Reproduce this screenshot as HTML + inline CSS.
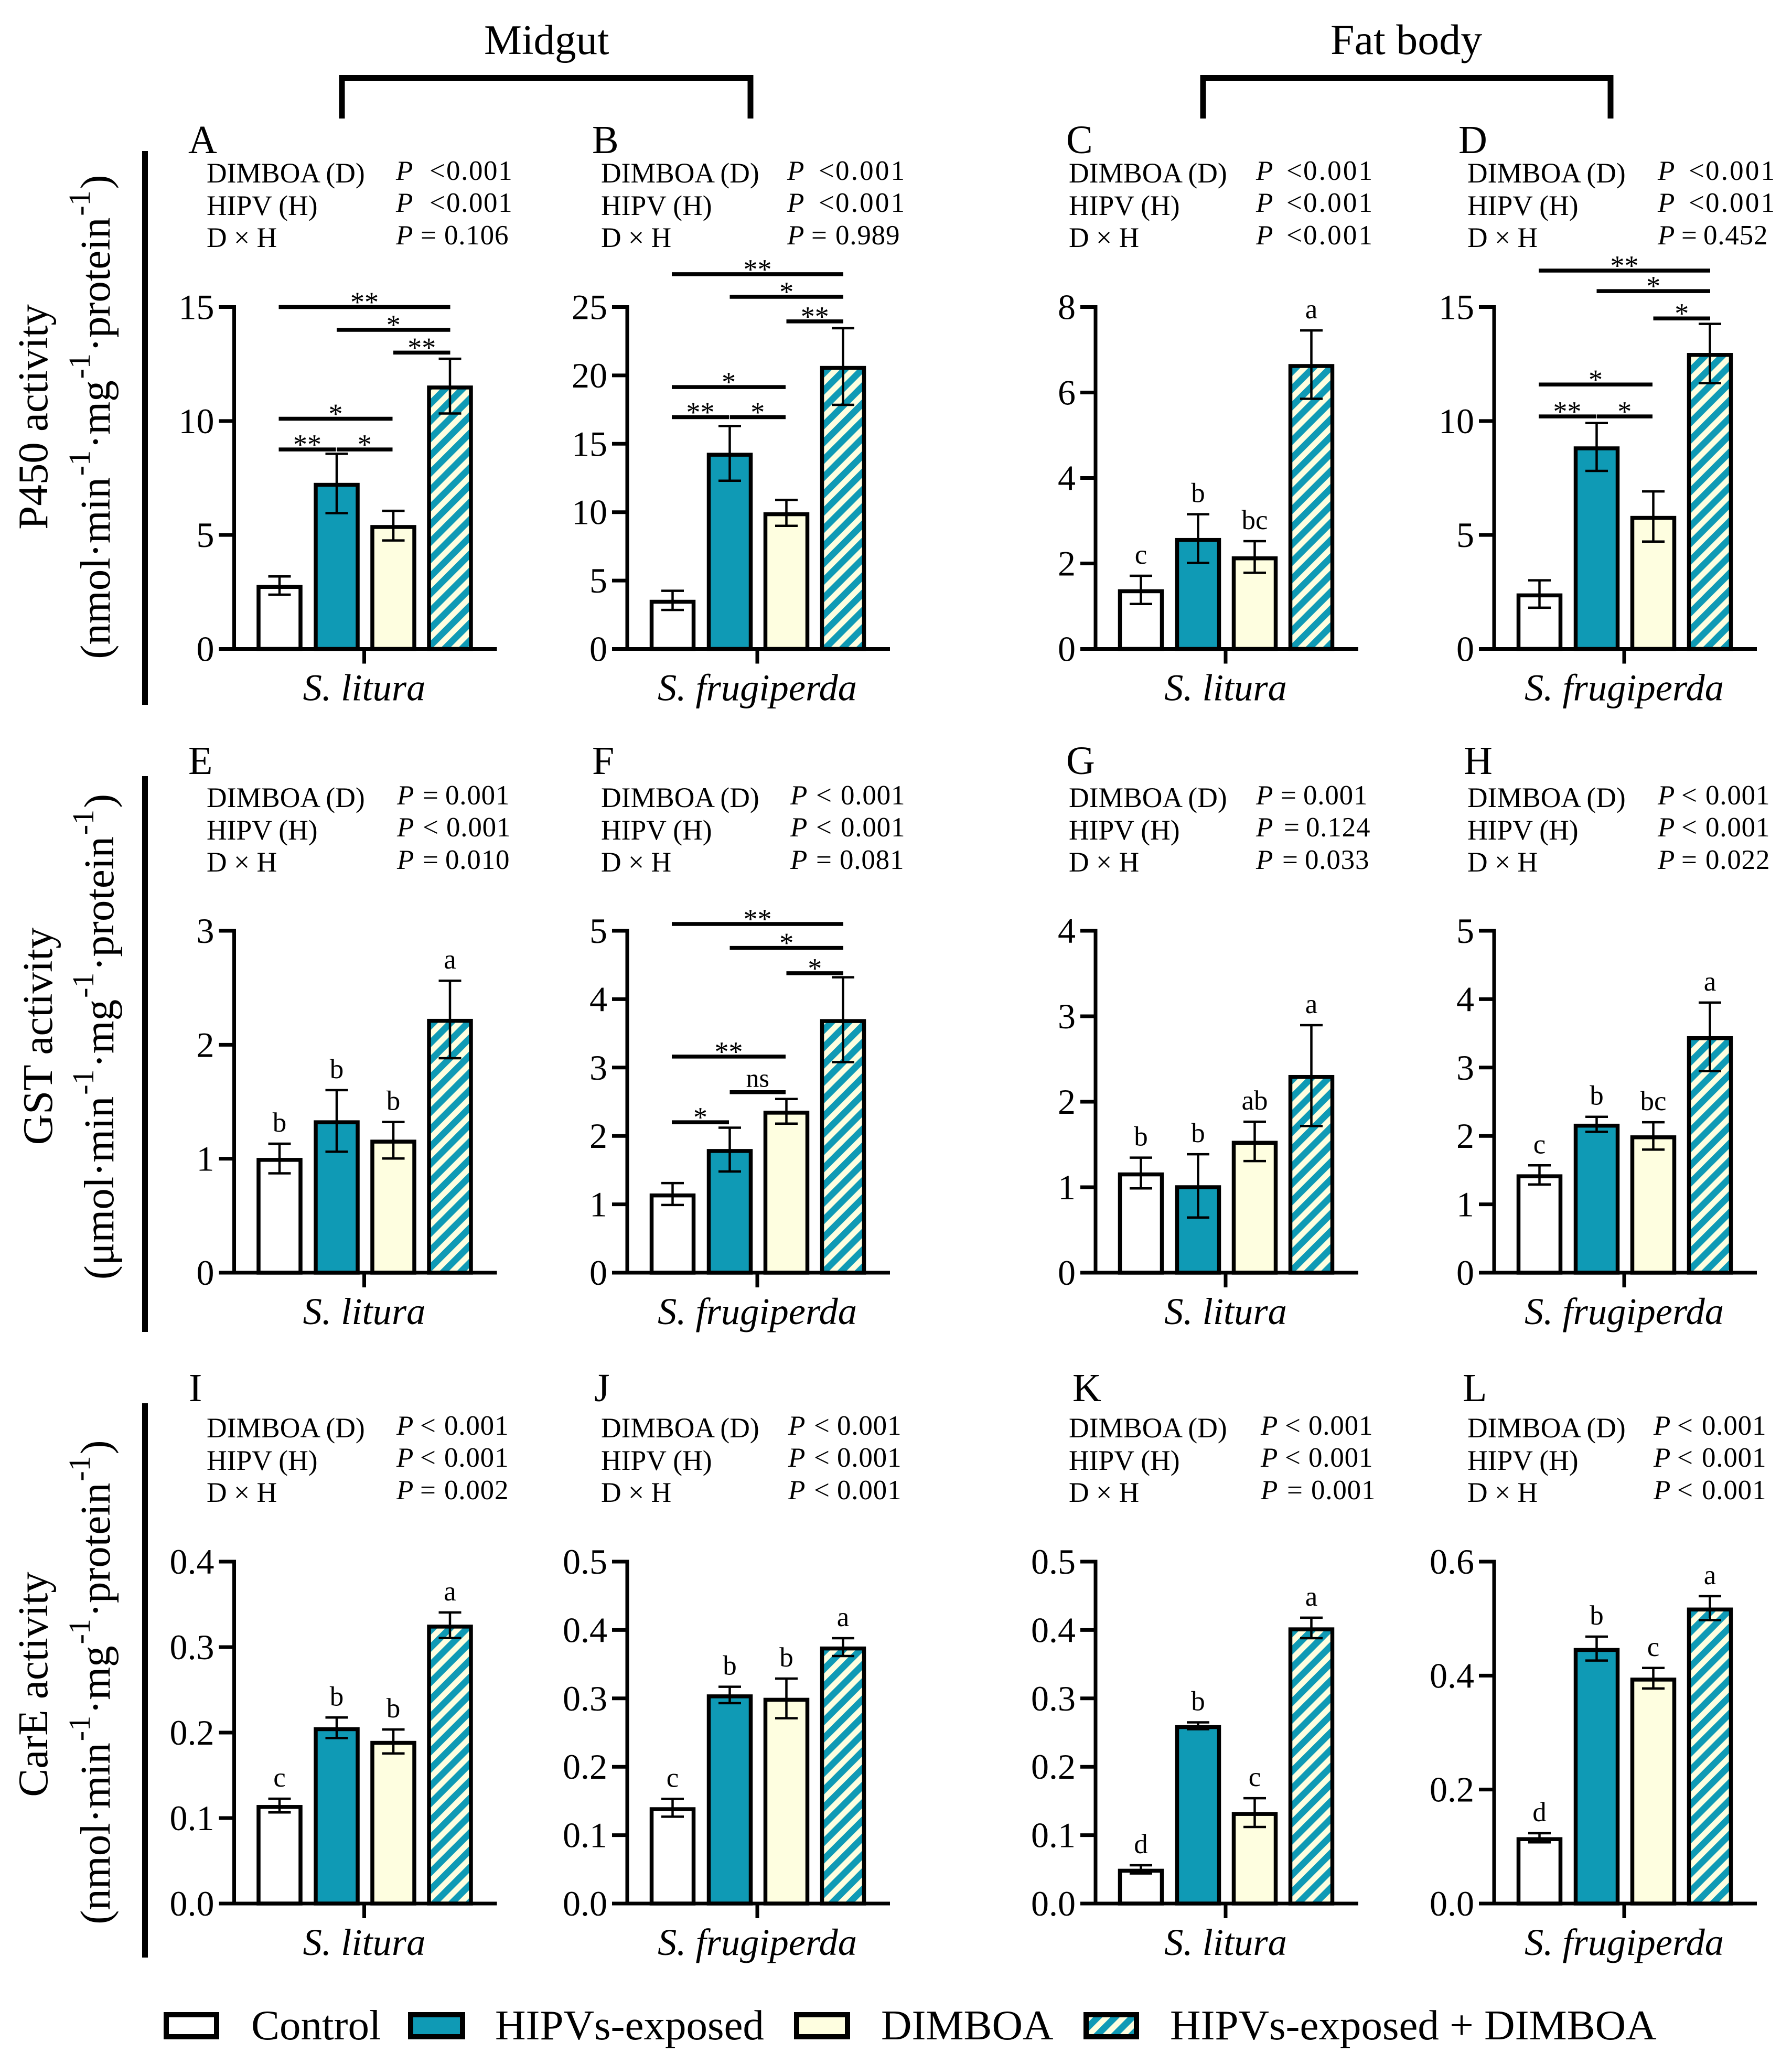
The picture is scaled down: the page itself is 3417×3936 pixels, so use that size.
<!DOCTYPE html>
<html lang="en">
<head>
<meta charset="utf-8">
<title>Detoxification enzyme activity in midgut and fat body</title>
<style>
html,body{margin:0;padding:0;background:#fff;width:3417px;height:3936px;overflow:hidden}
svg{display:block}
text{font-family:"Liberation Serif",serif;fill:#000}
.st{font-size:53.5px}
.pv{font-size:53px;letter-spacing:.8px}
.pa{letter-spacing:1.6px}
.pw{letter-spacing:3.2px}
.it{font-style:italic}
.pl{font-size:76px}
.hd{font-size:81px}
.yt{font-size:81px;text-anchor:middle}
.sup{font-size:58px}
.lg{font-size:81px}
</style>
</head>
<body>
<svg id="figure" xmlns="http://www.w3.org/2000/svg" width="3417" height="3936" viewBox="0 0 3417 3936">
<defs>
<pattern id="stripes" patternUnits="userSpaceOnUse" width="23.300" height="23.300" patternTransform="rotate(-45)">
<rect width="23.300" height="23.300" fill="#fefee0"/>
<rect width="23.300" height="12.500" fill="#0f9ab5"/>
</pattern>
</defs>
<rect width="3417" height="3936" fill="#fff"/>

<g>
<text class="hd" x="923" y="103">Midgut</text>
<path d="M652 226V148.500H1431V226" fill="none" stroke="#000" stroke-width="11"/>
<text class="hd" x="2537" y="103" style="font-size:82px">Fat body</text>
<path d="M2294 226V148.500H3071V226" fill="none" stroke="#000" stroke-width="11"/>
</g>

<g>
<rect x="271" y="288" width="11" height="1056"/>
<rect x="271" y="1480" width="11" height="1060"/>
<rect x="271" y="2676" width="11" height="1057"/>
</g>

<g>
<text class="yt" transform="translate(90,795) rotate(-90)">P450 activity</text>
<text class="yt" transform="translate(209,795) rotate(-90)">(nmol·min<tspan class="sup" dx="3" dy="-38">-1</tspan><tspan dx="3" dy="38">·mg</tspan><tspan class="sup" dx="3" dy="-38">-1</tspan><tspan dx="3" dy="38">·protein</tspan><tspan class="sup" dx="3" dy="-38">-1</tspan><tspan dx="3" dy="38">)</tspan></text>
<text class="yt" transform="translate(99,1976) rotate(-90)">GST activity</text>
<text class="yt" transform="translate(216,1977) rotate(-90)">(μmol·min<tspan class="sup" dx="3" dy="-38">-1</tspan><tspan dx="3" dy="38">·mg</tspan><tspan class="sup" dx="3" dy="-38">-1</tspan><tspan dx="3" dy="38">·protein</tspan><tspan class="sup" dx="3" dy="-38">-1</tspan><tspan dx="3" dy="38">)</tspan></text>
<text class="yt" transform="translate(90,3212) rotate(-90)">CarE activity</text>
<text class="yt" transform="translate(209,3208) rotate(-90)">(nmol·min<tspan class="sup" dx="3" dy="-38">-1</tspan><tspan dx="3" dy="38">·mg</tspan><tspan class="sup" dx="3" dy="-38">-1</tspan><tspan dx="3" dy="38">·protein</tspan><tspan class="sup" dx="3" dy="-38">-1</tspan><tspan dx="3" dy="38">)</tspan></text>
</g>

<g>
<text class="pl" x="359" y="292">A</text>
<text class="pl" x="1129" y="292">B</text>
<text class="pl" x="2033" y="292">C</text>
<text class="pl" x="2781" y="292">D</text>
<text class="pl" x="359" y="1476">E</text>
<text class="pl" x="1129" y="1476">F</text>
<text class="pl" x="2033" y="1476">G</text>
<text class="pl" x="2791" y="1476">H</text>
<text class="pl" x="360" y="2672">I</text>
<text class="pl" x="1133" y="2672">J</text>
<text class="pl" x="2045" y="2672">K</text>
<text class="pl" x="2789" y="2672">L</text>
</g>

<g>
<g>
<text class="st" x="394" y="348">DIMBOA (D)</text>
<text class="st" x="394" y="410">HIPV (H)</text>
<text class="st" x="394" y="471">D × H</text>
<text class="pv pa" y="343"><tspan class="it" x="755">P</tspan><tspan x="819">&lt;</tspan><tspan x="851">0.001</tspan></text>
<text class="pv pa" y="404"><tspan class="it" x="755">P</tspan><tspan x="819">&lt;</tspan><tspan x="851">0.001</tspan></text>
<text class="pv" y="466"><tspan class="it" x="755">P</tspan><tspan x="802">=</tspan><tspan x="847">0.106</tspan></text>
</g>
<g>
<text class="st" x="1146" y="348">DIMBOA (D)</text>
<text class="st" x="1146" y="410">HIPV (H)</text>
<text class="st" x="1146" y="471">D × H</text>
<text class="pv pw" y="343"><tspan class="it" x="1501">P</tspan><tspan x="1561">&lt;</tspan><tspan x="1593">0.001</tspan></text>
<text class="pv pw" y="404"><tspan class="it" x="1501">P</tspan><tspan x="1561">&lt;</tspan><tspan x="1593">0.001</tspan></text>
<text class="pv" y="466"><tspan class="it" x="1501">P</tspan><tspan x="1547">=</tspan><tspan x="1593">0.989</tspan></text>
</g>
<g>
<text class="st" x="2038" y="348">DIMBOA (D)</text>
<text class="st" x="2038" y="410">HIPV (H)</text>
<text class="st" x="2038" y="471">D × H</text>
<text class="pv pw" y="343"><tspan class="it" x="2395">P</tspan><tspan x="2453">&lt;</tspan><tspan x="2485">0.001</tspan></text>
<text class="pv pw" y="404"><tspan class="it" x="2395">P</tspan><tspan x="2453">&lt;</tspan><tspan x="2485">0.001</tspan></text>
<text class="pv pw" y="466"><tspan class="it" x="2395">P</tspan><tspan x="2453">&lt;</tspan><tspan x="2485">0.001</tspan></text>
</g>
<g>
<text class="st" x="2798" y="348">DIMBOA (D)</text>
<text class="st" x="2798" y="410">HIPV (H)</text>
<text class="st" x="2798" y="471">D × H</text>
<text class="pv pw" y="343"><tspan class="it" x="3161">P</tspan><tspan x="3220">&lt;</tspan><tspan x="3252">0.001</tspan></text>
<text class="pv pw" y="404"><tspan class="it" x="3161">P</tspan><tspan x="3220">&lt;</tspan><tspan x="3252">0.001</tspan></text>
<text class="pv" y="466"><tspan class="it" x="3161">P</tspan><tspan x="3206">=</tspan><tspan x="3248">0.452</tspan></text>
</g>
</g>

<g transform="translate(0,1191)">
<g>
<text class="st" x="394" y="348">DIMBOA (D)</text>
<text class="st" x="394" y="410">HIPV (H)</text>
<text class="st" x="394" y="471">D × H</text>
<text class="pv" y="343"><tspan class="it" x="757">P</tspan><tspan x="806">=</tspan><tspan x="849">0.001</tspan></text>
<text class="pv" y="404"><tspan class="it" x="757">P</tspan><tspan x="806">&lt;</tspan><tspan x="851">0.001</tspan></text>
<text class="pv" y="466"><tspan class="it" x="757">P</tspan><tspan x="806">=</tspan><tspan x="849">0.010</tspan></text>
</g>
<g>
<text class="st" x="1146" y="348">DIMBOA (D)</text>
<text class="st" x="1146" y="410">HIPV (H)</text>
<text class="st" x="1146" y="471">D × H</text>
<text class="pv" y="343"><tspan class="it" x="1507">P</tspan><tspan x="1556">&lt;</tspan><tspan x="1603">0.001</tspan></text>
<text class="pv" y="404"><tspan class="it" x="1507">P</tspan><tspan x="1556">&lt;</tspan><tspan x="1603">0.001</tspan></text>
<text class="pv" y="466"><tspan class="it" x="1507">P</tspan><tspan x="1556">=</tspan><tspan x="1601">0.081</tspan></text>
</g>
<g>
<text class="st" x="2038" y="348">DIMBOA (D)</text>
<text class="st" x="2038" y="410">HIPV (H)</text>
<text class="st" x="2038" y="471">D × H</text>
<text class="pv" y="343"><tspan class="it" x="2395">P</tspan><tspan x="2442">=</tspan><tspan x="2485">0.001</tspan></text>
<text class="pv" y="404"><tspan class="it" x="2395">P</tspan><tspan x="2448">=</tspan><tspan x="2490">0.124</tspan></text>
<text class="pv" y="466"><tspan class="it" x="2395">P</tspan><tspan x="2445">=</tspan><tspan x="2488">0.033</tspan></text>
</g>
<g>
<text class="st" x="2798" y="348">DIMBOA (D)</text>
<text class="st" x="2798" y="410">HIPV (H)</text>
<text class="st" x="2798" y="471">D × H</text>
<text class="pv" y="343"><tspan class="it" x="3161">P</tspan><tspan x="3206">&lt;</tspan><tspan x="3252">0.001</tspan></text>
<text class="pv" y="404"><tspan class="it" x="3161">P</tspan><tspan x="3206">&lt;</tspan><tspan x="3252">0.001</tspan></text>
<text class="pv" y="466"><tspan class="it" x="3161">P</tspan><tspan x="3206">=</tspan><tspan x="3252">0.022</tspan></text>
</g>
</g>

<g transform="translate(0,2393)">
<g>
<text class="st" x="394" y="348">DIMBOA (D)</text>
<text class="st" x="394" y="410">HIPV (H)</text>
<text class="st" x="394" y="471">D × H</text>
<text class="pv" y="343"><tspan class="it" x="756">P</tspan><tspan x="801">&lt;</tspan><tspan x="847">0.001</tspan></text>
<text class="pv" y="404"><tspan class="it" x="756">P</tspan><tspan x="801">&lt;</tspan><tspan x="847">0.001</tspan></text>
<text class="pv" y="466"><tspan class="it" x="756">P</tspan><tspan x="801">=</tspan><tspan x="847">0.002</tspan></text>
</g>
<g>
<text class="st" x="1146" y="348">DIMBOA (D)</text>
<text class="st" x="1146" y="410">HIPV (H)</text>
<text class="st" x="1146" y="471">D × H</text>
<text class="pv" y="343"><tspan class="it" x="1503">P</tspan><tspan x="1552">&lt;</tspan><tspan x="1596">0.001</tspan></text>
<text class="pv" y="404"><tspan class="it" x="1503">P</tspan><tspan x="1552">&lt;</tspan><tspan x="1596">0.001</tspan></text>
<text class="pv" y="466"><tspan class="it" x="1503">P</tspan><tspan x="1552">&lt;</tspan><tspan x="1596">0.001</tspan></text>
</g>
<g>
<text class="st" x="2038" y="348">DIMBOA (D)</text>
<text class="st" x="2038" y="410">HIPV (H)</text>
<text class="st" x="2038" y="471">D × H</text>
<text class="pv" y="343"><tspan class="it" x="2404">P</tspan><tspan x="2450">&lt;</tspan><tspan x="2495">0.001</tspan></text>
<text class="pv" y="404"><tspan class="it" x="2404">P</tspan><tspan x="2450">&lt;</tspan><tspan x="2495">0.001</tspan></text>
<text class="pv" y="466"><tspan class="it" x="2404">P</tspan><tspan x="2454">=</tspan><tspan x="2500">0.001</tspan></text>
</g>
<g>
<text class="st" x="2798" y="348">DIMBOA (D)</text>
<text class="st" x="2798" y="410">HIPV (H)</text>
<text class="st" x="2798" y="471">D × H</text>
<text class="pv" y="343"><tspan class="it" x="3153">P</tspan><tspan x="3198">&lt;</tspan><tspan x="3245">0.001</tspan></text>
<text class="pv" y="404"><tspan class="it" x="3153">P</tspan><tspan x="3198">&lt;</tspan><tspan x="3245">0.001</tspan></text>
<text class="pv" y="466"><tspan class="it" x="3153">P</tspan><tspan x="3198">&lt;</tspan><tspan x="3245">0.001</tspan></text>
</g>
</g>

<g id="charts"></g>

<g>
<g>
<rect x="317" y="3842" width="96" height="42" fill="#fff" stroke="#000" stroke-width="10"/>
<text class="lg" x="479" y="3889">Control</text>
</g>
<g>
<rect x="783" y="3842" width="99" height="42" fill="#0f9ab5" stroke="#000" stroke-width="10"/>
<text class="lg" x="944" y="3889">HIPVs-exposed</text>
</g>
<g>
<rect x="1519" y="3842" width="97" height="42" fill="#fefee0" stroke="#000" stroke-width="10"/>
<text class="lg" x="1680" y="3889">DIMBOA</text>
</g>
<g>
<rect x="2071" y="3842" width="96" height="42" fill="url(#stripes)" stroke="#000" stroke-width="10"/>
<text class="lg" x="2231" y="3889">HIPVs-exposed + DIMBOA</text>
</g>
</g>
</svg>

<script>
// Series order in every array: Control, HIPVs-exposed, DIMBOA, HIPVs-exposed + DIMBOA
const categories = ['Control', 'HIPVs-exposed', 'DIMBOA', 'HIPVs-exposed + DIMBOA'];
const species = ['S. litura', 'S. frugiperda'];

const valuesA = [2.72, 7.2, 5.35, 11.47];
const errorsA = [0.4, 1.3, 0.65, 1.2];
const ticksA = ['0', '5', '10', '15'];
const valuesB = [3.45, 14.2, 9.85, 20.55];
const errorsB = [0.7, 2.0, 0.95, 2.8];
const ticksB = ['0', '5', '10', '15', '20', '25'];
const valuesC = [1.35, 2.55, 2.12, 6.62];
const errorsC = [0.33, 0.57, 0.37, 0.8];
const ticksC = ['0', '2', '4', '6', '8'];
const valuesD = [2.35, 8.8, 5.75, 12.9];
const errorsD = [0.6, 1.05, 1.1, 1.3];
const ticksD = ['0', '5', '10', '15'];

const valuesE = [0.99, 1.32, 1.15, 2.21];
const errorsE = [0.13, 0.27, 0.16, 0.34];
const ticksE = ['0', '1', '2', '3'];
const valuesF = [1.13, 1.78, 2.34, 3.68];
const errorsF = [0.16, 0.32, 0.18, 0.62];
const ticksF = ['0', '1', '2', '3', '4', '5'];
const valuesG = [1.15, 1.0, 1.52, 2.29];
const errorsG = [0.18, 0.37, 0.23, 0.59];
const ticksG = ['0', '1', '2', '3', '4'];
const valuesH = [1.41, 2.15, 1.98, 3.43];
const errorsH = [0.14, 0.11, 0.2, 0.5];
const ticksH = ['0', '1', '2', '3', '4', '5'];

const valuesI = [0.113, 0.204, 0.188, 0.324];
const errorsI = [0.008, 0.012, 0.014, 0.015];
const ticksI = ['0.0', '0.1', '0.2', '0.3', '0.4'];
const valuesJ = [0.138, 0.303, 0.298, 0.373];
const errorsJ = [0.013, 0.012, 0.029, 0.013];
const ticksJ = ['0.0', '0.1', '0.2', '0.3', '0.4', '0.5'];
const valuesK = [0.048, 0.258, 0.131, 0.401];
const errorsK = [0.006, 0.005, 0.021, 0.015];
const ticksK = ['0.0', '0.1', '0.2', '0.3', '0.4', '0.5'];
const valuesL = [0.113, 0.445, 0.393, 0.516];
const errorsL = [0.008, 0.021, 0.018, 0.021];
const ticksL = ['0.0', '0.2', '0.4', '0.6'];

// Letter groupings above bars
const lettersC = ['c', 'b', 'bc', 'a'];
const lettersE = ['b', 'b', 'b', 'a'];
const lettersG = ['b', 'b', 'ab', 'a'];
const lettersH = ['c', 'b', 'bc', 'a'];
const lettersI = ['c', 'b', 'b', 'a'];
const lettersJ = ['c', 'b', 'b', 'a'];
const lettersK = ['d', 'b', 'c', 'a'];
const lettersL = ['d', 'b', 'c', 'a'];

// Significance brackets: first bar, last bar, height in axis units, label
const sigA = [[0, 3, 15, '**'], [1, 3, 14, '*'], [2, 3, 13, '**'], [0, 2, 10.1, '*'], [0, 1, 8.75, '**'], [1, 2, 8.75, '*']];
const sigB = [[0, 3, 27.4, '**'], [1, 3, 25.75, '*'], [2, 3, 23.95, '**'], [0, 2, 19.15, '*'], [0, 1, 16.95, '**'], [1, 2, 16.95, '*']];
const sigD = [[0, 3, 16.6, '**'], [1, 3, 15.7, '*'], [2, 3, 14.5, '*'], [0, 2, 11.6, '*'], [0, 1, 10.2, '**'], [1, 2, 10.2, '*']];
const sigF = [[0, 3, 5.1, '**'], [1, 3, 4.75, '*'], [2, 3, 4.38, '*'], [0, 2, 3.16, '**'], [1, 2, 2.64, 'ns'], [0, 1, 2.2, '*']];

function createSvg(tag, parent, attrs, content) {
  const node = document.createElementNS('http://www.w3.org/2000/svg', tag);
  Object.keys(attrs).forEach(function (k) { node.setAttribute(k, attrs[k]); });
  if (content !== undefined) node.textContent = content;
  parent.appendChild(node);
  return node;
}

function drawPanel(id, col, row, values, errors, ticks, letters, sig) {
  const root = document.getElementById('charts');
  const axisXs = [446.5, 1196, 2089, 2849];
  const baseYs = [1237.5, 2427, 3630];
  const plotHeight = 652;
  const barOffsets = [86.5, 195.5, 303.5, 411.5];
  const axisX = axisXs[col];
  const baseY = baseYs[row];
  const maxValue = Number(ticks[ticks.length - 1]);
  const yScale = function (v) { return baseY - (v / maxValue) * plotHeight; };
  const xScale = function (i) { return axisX + barOffsets[i]; };

  const panel = createSvg('g', root, {});
  
  

  values.forEach(function (v, i) {
    const fills = ['#ffffff', '#0f9ab5', '#fefee0', 'url(#stripes)'];
    const top = yScale(v);
    const bar = createSvg('rect', panel, { x: xScale(i) - 40, y: top, width: 80, height: baseY - top, fill: fills[i], stroke: '#000', 'stroke-width': 7.5 });
    
    
  });

  values.forEach(function (v, i) {
    const mid = v + 0.004 * maxValue;
    const hi = yScale(mid + errors[i]);
    const lo = yScale(mid - errors[i]);
    const cx = xScale(i);
    const d = 'M' + cx + ' ' + hi + 'V' + lo + 'M' + (cx - 21.5) + ' ' + hi + 'H' + (cx + 21.5) + 'M' + (cx - 21.5) + ' ' + lo + 'H' + (cx + 21.5);
    const err = createSvg('path', panel, { d: d, fill: 'none', stroke: '#000', 'stroke-width': 4.5 });
    
    
    if (letters) {
      const lab = createSvg('text', panel, { x: cx, y: hi - 23, 'text-anchor': 'middle', 'font-size': 53 }, letters[i]);
      
      
    }
  });

  const yAxis = createSvg('line', panel, { x1: axisX, x2: axisX, y1: baseY - plotHeight - 3.5, y2: baseY + 3.5, stroke: '#000', 'stroke-width': 7 });
  
  
  const xAxis = createSvg('line', panel, { x1: axisX - 29, x2: axisX + 501, y1: baseY, y2: baseY, stroke: '#000', 'stroke-width': 7 });
  
  
  const xTick = createSvg('line', panel, { x1: axisX + 248, x2: axisX + 248, y1: baseY, y2: baseY + 28, stroke: '#000', 'stroke-width': 7 });
  
  

  ticks.forEach(function (t) {
    const y = yScale(Number(t));
    const mark = createSvg('line', panel, { x1: axisX - 29, x2: axisX, y1: y, y2: y, stroke: '#000', 'stroke-width': 7 });
    
    
    const label = createSvg('text', panel, { x: axisX - 38, y: y + 23, 'text-anchor': 'end', 'font-size': 68 }, t);
    
    
  });

  const xLabel = createSvg('text', panel, { x: axisX + 248, y: baseY + 98, 'text-anchor': 'middle', 'font-size': 72.5, 'font-style': 'italic' }, species[col % 2]);
  
  

  (sig || []).forEach(function (s, i) {
    const y = yScale(s[2]);
    const x1 = xScale(s[0]) - (s[0] === 0 ? 1.5 : 0);
    const x2 = xScale(s[1]) + (s[1] === 3 ? 0.5 : -1.5);
    const rule = createSvg('line', panel, { x1: x1, x2: x2, y1: y, y2: y, stroke: '#000', 'stroke-width': 7.5 });
    
    
    const isNs = s[3] === 'ns';
    const star = createSvg('text', panel, { x: (x1 + x2) / 2, y: isNs ? y - 10 : y + 8.5, 'text-anchor': 'middle', 'font-size': isNs ? 50 : 54 }, s[3]);
    
    
  });
}

drawPanel('a', 0, 0, valuesA, errorsA, ticksA, null, sigA);
drawPanel('b', 1, 0, valuesB, errorsB, ticksB, null, sigB);
drawPanel('c', 2, 0, valuesC, errorsC, ticksC, lettersC, null);
drawPanel('d', 3, 0, valuesD, errorsD, ticksD, null, sigD);
drawPanel('e', 0, 1, valuesE, errorsE, ticksE, lettersE, null);
drawPanel('f', 1, 1, valuesF, errorsF, ticksF, null, sigF);
drawPanel('g', 2, 1, valuesG, errorsG, ticksG, lettersG, null);
drawPanel('h', 3, 1, valuesH, errorsH, ticksH, lettersH, null);
drawPanel('i', 0, 2, valuesI, errorsI, ticksI, lettersI, null);
drawPanel('j', 1, 2, valuesJ, errorsJ, ticksJ, lettersJ, null);
drawPanel('k', 2, 2, valuesK, errorsK, ticksK, lettersK, null);
drawPanel('l', 3, 2, valuesL, errorsL, ticksL, lettersL, null);
</script>
</body>
</html>
